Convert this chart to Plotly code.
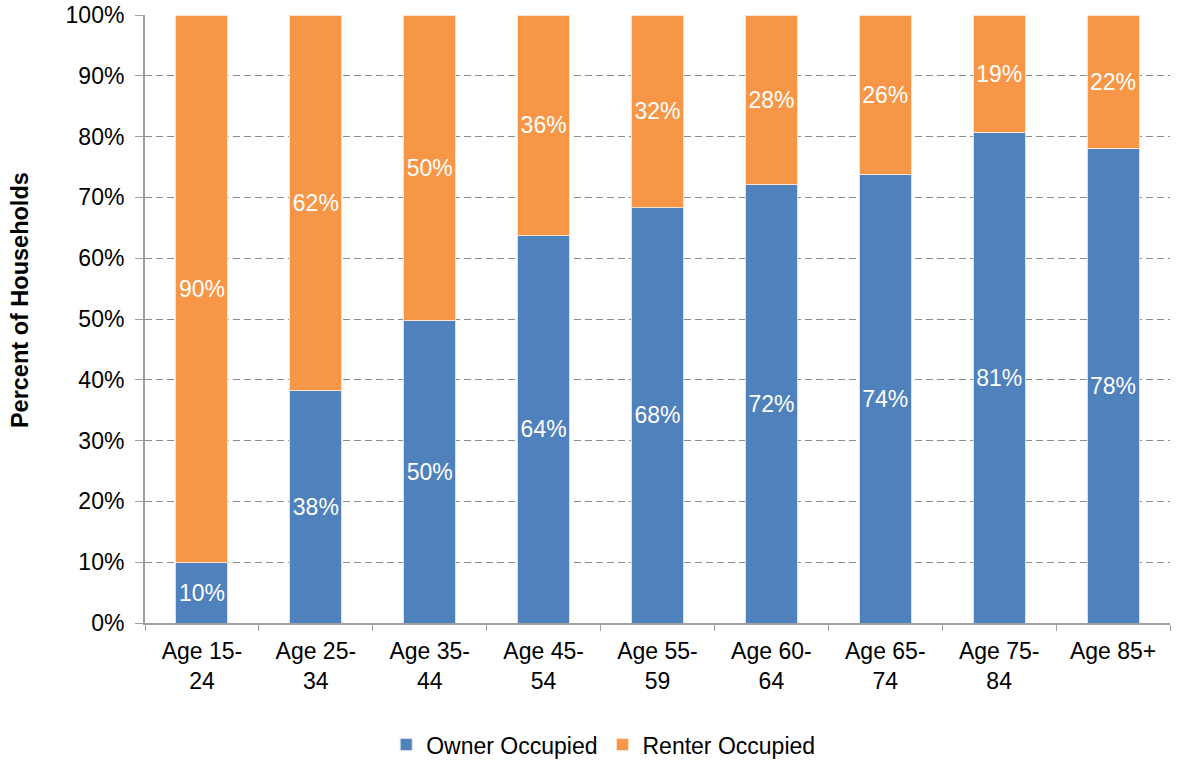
import plotly.graph_objects as go

categories = ["Age 15-<br>24", "Age 25-<br>34", "Age 35-<br>44", "Age 45-<br>54", "Age 55-<br>59",
              "Age 60-<br>64", "Age 65-<br>74", "Age 75-<br>84", "Age 85+"]
owner = [9.9, 38.2, 49.7, 63.8, 68.3, 72.2, 73.8, 80.6, 78.0]
renter = [90.1, 61.8, 50.3, 36.2, 31.7, 27.8, 26.2, 19.4, 22.0]
y_title = "Percent of Households"

blue = "#4F81BD"
orange = "#F79646"
font = "Liberation Sans, Arial, sans-serif"

fig = go.Figure()
fig.add_trace(go.Bar(
    x=categories, y=owner, name="Owner Occupied",
    marker=dict(color=blue, line=dict(color="#D9E1EE", width=1)),
    text=[f"{round(v)}%" for v in owner], textposition="inside",
    insidetextanchor="middle", textangle=0,
    textfont=dict(color="white", size=23, family=font),
))
fig.add_trace(go.Bar(
    x=categories, y=renter, name="Renter Occupied",
    marker=dict(color=orange, line=dict(color="#FCE3CF", width=1)),
    text=[f"{round(v)}%" for v in renter], textposition="inside",
    insidetextanchor="middle", textangle=0,
    textfont=dict(color="white", size=23, family=font),
))

fig.update_layout(
    barmode="stack",
    bargap=0.543,
    width=1180, height=761,
    margin=dict(l=145, r=10, t=15, b=138, autoexpand=False),
    paper_bgcolor="white", plot_bgcolor="white",
    font=dict(family=font, size=22, color="black"),
    legend=dict(orientation="h", x=0.447, xanchor="center", y=-0.2, yanchor="middle",
                font=dict(size=23, family=font, color="black"), itemwidth=30, traceorder="normal"),
    showlegend=True,
)
fig.add_annotation(
    text=f"<b>{y_title}</b>", textangle=-90,
    xref="paper", yref="paper", x=-0.122, y=0.531,
    xanchor="center", yanchor="middle", showarrow=False,
    font=dict(size=23.5, family=font, color="black"),
)
fig.update_yaxes(
    range=[0, 100], dtick=10, ticksuffix="%",
    showgrid=True, gridcolor="#8C8C8C", griddash="7px,4px", gridwidth=1,
    showline=True, linecolor="#A0A0A0", linewidth=2,
    ticks="outside", ticklen=8, tickcolor="#A0A0A0", ticklabelstandoff=6,
    ticklabeloverflow="allow",
    tickfont=dict(size=23, family=font, color="black"),
    zeroline=False,
)
fig.update_xaxes(
    showline=True, linecolor="#A0A0A0", linewidth=2,
    ticks="outside", ticklen=6, tickcolor="#A0A0A0", tickson="boundaries",
    ticklabelstandoff=6, ticklabeloverflow="allow",
    tickfont=dict(size=23, family=font, color="black"),
    showgrid=False,
)

fig.write_html("out.html", config={"displayModeBar": False},
               post_script="document.body.style.margin='0';document.body.style.overflow='hidden';")
